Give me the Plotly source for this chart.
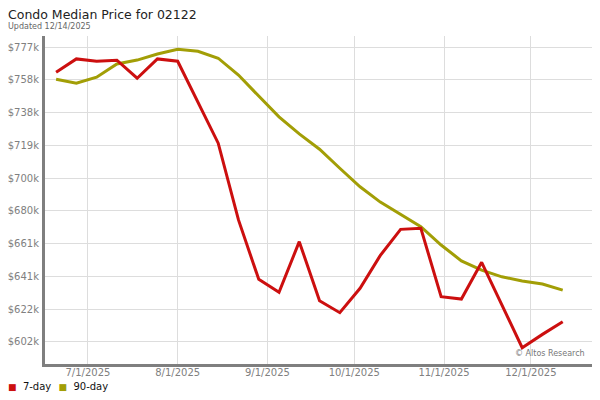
import plotly.graph_objects as go

dates = ["2025-06-20", "2025-06-27", "2025-07-04", "2025-07-11", "2025-07-18", "2025-07-25",
         "2025-08-01", "2025-08-08", "2025-08-15", "2025-08-22", "2025-08-29", "2025-09-05",
         "2025-09-12", "2025-09-19", "2025-09-26", "2025-10-03", "2025-10-10", "2025-10-17",
         "2025-10-24", "2025-10-31", "2025-11-07", "2025-11-14", "2025-11-21", "2025-11-28",
         "2025-12-05", "2025-12-12"]

price_7day = [762500, 770400, 769000, 769600, 758900, 770400, 769000, 745100, 720300, 674700,
              639400, 631700, 661800, 626700, 619600, 634100, 653600, 669100, 669700, 629100,
              627700, 649500, 624400, 598800, 606700, 614200]

price_90day = [758300, 755900, 759500, 767400, 769700, 773300, 776100, 774900, 770800, 760800,
               748300, 736000, 725800, 716700, 705400, 694400, 685300, 678200, 670700, 659800,
               650400, 644900, 640900, 638400, 636600, 633000]

y_tick_values = [602330, 621774, 641218, 660662, 680106, 699550, 718994, 738438, 757882, 777326]
y_tick_labels = ["$602k", "$622k", "$641k", "$661k", "$680k", "$700k", "$719k", "$738k", "$758k", "$777k"]

x_tick_values = ["2025-07-01", "2025-08-01", "2025-09-01", "2025-10-01", "2025-11-01", "2025-12-01"]
x_tick_labels = ["7/1/2025", "8/1/2025", "9/1/2025", "10/1/2025", "11/1/2025", "12/1/2025"]

RED = "#cc0f0f"
OLIVE = "#a29e06"
AXIS_GRAY = "#7f7f7f"
FONT = "DejaVu Sans"


def swatch_label(color, label):
    return ("<span style='font-size:9px;fill:%s'>\u25a0</span>\u00a0\u00a0%s" % (color, label))


fig = go.Figure()
fig.add_trace(go.Scatter(x=dates, y=price_90day, mode="lines", name="90-day",
                         line=dict(color=OLIVE, width=3), showlegend=False))
fig.add_trace(go.Scatter(x=dates, y=price_7day, mode="lines", name="7-day",
                         line=dict(color=RED, width=3), showlegend=False))
# legend entries: colored square swatch drawn as part of the entry text
fig.add_trace(go.Scatter(x=[None], y=[None], mode="lines", name=swatch_label(RED, "7-day"),
                         legend="legend", line=dict(width=0, color="rgba(0,0,0,0)")))
fig.add_trace(go.Scatter(x=[None], y=[None], mode="lines", name=swatch_label(OLIVE, "90-day"),
                         legend="legend2", line=dict(width=0, color="rgba(0,0,0,0)")))

legend_style = dict(orientation="h", xref="paper", yref="paper", xanchor="left",
                    y=-0.066, yanchor="middle",
                    font=dict(family=FONT, size=10, color="#111111"),
                    itemwidth=30, bgcolor="rgba(0,0,0,0)")

# page body has an 8px margin: the figure is sized to fit the 600x400 window
fig.update_layout(
    width=592, height=392,
    margin=dict(l=37, r=4, t=28, b=36, autoexpand=False),
    paper_bgcolor="white", plot_bgcolor="white",
    font=dict(family=FONT, size=10, color="#222222"),
    showlegend=True,
    legend=dict(x=-0.1397, **legend_style),
    legend2=dict(x=-0.048, **legend_style),
    xaxis=dict(
        type="date", automargin=False,
        range=["2025-06-16 04:00", "2025-12-23 12:00"],
        tickvals=x_tick_values, ticktext=x_tick_labels,
        showgrid=True, gridcolor="#dddddd", gridwidth=1,
        showline=True, linecolor=AXIS_GRAY, linewidth=3,
        ticks="", ticklabelstandoff=-3,
        tickfont=dict(family=FONT, size=10, color="#808080"),
        zeroline=False,
    ),
    yaxis=dict(
        automargin=False,
        range=[589100, 784000],
        tickvals=y_tick_values, ticktext=y_tick_labels,
        showgrid=True, gridcolor="#dddddd", gridwidth=1,
        showline=True, linecolor=AXIS_GRAY, linewidth=3,
        ticks="outside", ticklen=1, tickcolor="rgba(0,0,0,0)",
        tickfont=dict(family=FONT, size=10, color="#808080"),
        zeroline=False,
    ),
    shapes=[
        # bottom axis rule continues to the right edge of the chart
        dict(type="line", xref="paper", yref="paper", x0=0.99, x1=1.02, y0=-0.0046, y1=-0.0046,
             line=dict(color=AXIS_GRAY, width=3), layer="above"),
    ],
    annotations=[
        dict(text="Condo Median Price for 02122", xref="paper", yref="paper",
             x=-0.071, y=1.067, xanchor="left", yanchor="middle", showarrow=False,
             font=dict(family=FONT, size=12.5, color="#222222")),
        dict(text="Updated 12/14/2025", xref="paper", yref="paper",
             x=-0.071, y=1.028, xanchor="left", yanchor="middle", showarrow=False,
             font=dict(family=FONT, size=8, color="#666666")),
        dict(text="© Altos Research", xref="paper", yref="paper",
             x=0.984, y=0.031, xanchor="right", yanchor="middle", showarrow=False,
             font=dict(family=FONT, size=8, color="#777777")),
    ],
)

fig.write_html("out.html")
